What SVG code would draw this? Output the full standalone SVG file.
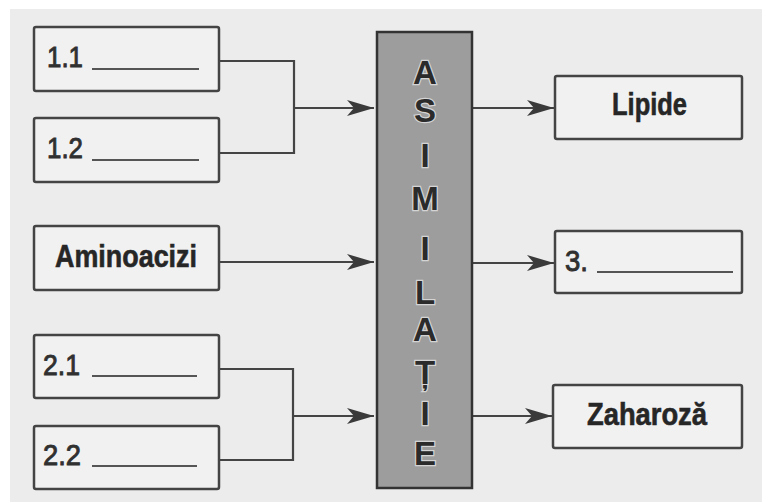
<svg xmlns="http://www.w3.org/2000/svg" width="762" height="502" viewBox="0 0 762 502">
<defs>
<style>
.box{fill:#f1f1f1;stroke:#444;stroke-width:2.5}
.lbl{font-family:"Liberation Sans",Arial,sans-serif;font-weight:bold;font-size:31px;fill:#262626;stroke:#262626;stroke-width:0.6}
.num{font-family:"Liberation Sans",Arial,sans-serif;font-size:30px;fill:#303030;stroke:#303030;stroke-width:0.9}
.blank{stroke:#555;stroke-width:2.2}
.con{fill:none;stroke:#444;stroke-width:2.2}
.big{font-family:"Liberation Sans",Arial,sans-serif;font-weight:bold;font-size:33px;fill:#2b2b2b;stroke:#d4d4d4;stroke-width:2.5;paint-order:stroke;text-anchor:middle}
</style>
<marker id="ah" markerUnits="userSpaceOnUse" markerWidth="30" markerHeight="20" viewBox="-28 -10 30 20" refX="0" refY="0" orient="auto">
<path d="M0,0 L-27,-8 L-20,0 L-27,8 Z" fill="#3a3a3a"/>
</marker>
</defs>
<rect x="10" y="9" width="752" height="493" fill="#ececec"/>

<g id="connectors">
<path class="con" d="M219,61 H294 V153 H219"/>
<path class="con" d="M294,108 H374" marker-end="url(#ah)"/>
<path class="con" d="M219,262 H374" marker-end="url(#ah)"/>
<path class="con" d="M219,369 H293 V460 H219"/>
<path class="con" d="M293,416 H374" marker-end="url(#ah)"/>
<path class="con" d="M472,108 H554" marker-end="url(#ah)"/>
<path class="con" d="M472,263 H554" marker-end="url(#ah)"/>
<path class="con" d="M472,416 H552" marker-end="url(#ah)"/>
</g>

<g id="n11">
<rect class="box" x="34" y="27" width="185" height="64" rx="2"/>
<text class="num" x="47" y="67" textLength="36" lengthAdjust="spacingAndGlyphs">1.1</text>
<line class="blank" x1="92" y1="69" x2="199" y2="69"/>
</g>
<g id="n12">
<rect class="box" x="34" y="118" width="185" height="64" rx="2"/>
<text class="num" x="47" y="158" textLength="36" lengthAdjust="spacingAndGlyphs">1.2</text>
<line class="blank" x1="92" y1="160" x2="199" y2="160"/>
</g>
<g id="amino">
<rect class="box" x="34" y="226" width="185" height="64" rx="2"/>
<text class="lbl" x="55" y="267" textLength="142" lengthAdjust="spacingAndGlyphs">Aminoacizi</text>
</g>
<g id="n21">
<rect class="box" x="34" y="335" width="185" height="63" rx="2"/>
<text class="num" x="43" y="375" textLength="37" lengthAdjust="spacingAndGlyphs">2.1</text>
<line class="blank" x1="92" y1="376" x2="197" y2="376"/>
</g>
<g id="n22">
<rect class="box" x="34" y="426" width="185" height="63" rx="2"/>
<text class="num" x="43" y="465" textLength="38" lengthAdjust="spacingAndGlyphs">2.2</text>
<line class="blank" x1="92" y1="466" x2="197" y2="466"/>
</g>

<g id="asimilatie">
<rect x="377" y="32" width="95" height="456" fill="#9d9d9d" stroke="#333" stroke-width="2.5"/>
<text class="big" x="425" y="84">A</text>
<text class="big" x="425" y="122">S</text>
<text class="big" x="425" y="167">I</text>
<text class="big" x="425" y="210">M</text>
<text class="big" x="425" y="260">I</text>
<text class="big" x="425" y="304">L</text>
<text class="big" x="425" y="341">A</text>
<text class="big" x="425" y="384">Ț</text>
<text class="big" x="425" y="425">I</text>
<text class="big" x="425" y="465">E</text>
</g>

<g id="lipide">
<rect class="box" x="555" y="76" width="187" height="63" rx="2"/>
<text class="lbl" x="612" y="115" textLength="75" lengthAdjust="spacingAndGlyphs">Lipide</text>
</g>
<g id="n3">
<rect class="box" x="555" y="231" width="187" height="62" rx="2"/>
<text class="num" x="565" y="271" textLength="23" lengthAdjust="spacingAndGlyphs">3.</text>
<line class="blank" x1="597" y1="272" x2="733" y2="272"/>
</g>
<g id="zaharoza">
<rect class="box" x="553" y="385" width="189" height="63" rx="2"/>
<text class="lbl" x="587" y="425" textLength="120" lengthAdjust="spacingAndGlyphs">Zaharoză</text>
</g>
</svg>
